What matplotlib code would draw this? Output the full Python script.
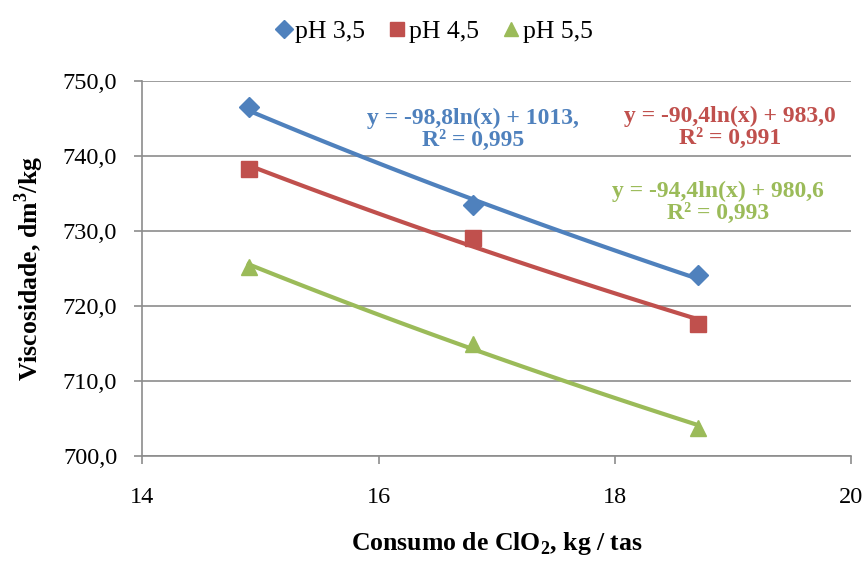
import numpy as np
import matplotlib.pyplot as plt

plt.rcParams['font.family'] = ['Liberation Serif', 'DejaVu Serif']
plt.rcParams['mathtext.fontset'] = 'custom'
plt.rcParams['mathtext.rm'] = 'Liberation Serif'
plt.rcParams['mathtext.bf'] = 'Liberation Serif:bold'

# consumo de ClO2 (kg/tas) e viscosidade (dm3/kg) por pH
consumo = [14.9, 16.8, 18.7]
visc_ph35 = [746.6, 733.5, 724.1]
visc_ph45 = [738.3, 729.1, 717.6]
visc_ph55 = [725.2, 715.0, 703.7]

# coeficientes das linhas de tendência logarítmicas: y = a ln(x) + b
coef_ph35 = (-98.8, 1013.0)
coef_ph45 = (-90.4, 983.0)
coef_ph55 = (-94.4, 980.6)

series = [
    ("pH 3,5", visc_ph35, coef_ph35, "#4F81BD", "D", 10,
     "y = -98,8ln(x) + 1013,\nR² = 0,995", (16.8, 743.6)),
    ("pH 4,5", visc_ph45, coef_ph45, "#C0504D", "s", 11,
     "y = -90,4ln(x) + 983,0\nR² = 0,991", (18.97, 743.8)),
    ("pH 5,5", visc_ph55, coef_ph55, "#9BBB59", "^", 11,
     "y = -94,4ln(x) + 980,6\nR² = 0,993", (18.87, 733.9)),
]

fig = plt.figure(figsize=(8.67, 5.61), dpi=100)
ax = fig.add_axes([0.164, 0.187, 0.818, 0.668])

xs = np.linspace(min(consumo), max(consumo), 50)
handles = []
for nome, vals, (a, b), cor, mk, ms, eq, pos in series:
    ax.plot(xs, a * np.log(xs) + b, color=cor, lw=3, zorder=2)
    h, = ax.plot(consumo, vals, linestyle="none", marker=mk, ms=ms,
                 color=cor, label=nome, zorder=3)
    handles.append(h)
    ax.text(pos[0], pos[1], eq, color=cor, fontsize=17, fontweight="bold",
            ha="center", va="center", linespacing=1.05)

ax.set_xlim(14, 20)
ax.set_ylim(700, 750)
ax.set_xticks([14, 16, 18, 20])
ax.set_yticks(np.arange(700, 751, 10))
ax.set_yticklabels([f"{v:.1f}".replace(".", ",") for v in np.arange(700, 751, 10)])

ax.grid(axis="y", color="#8c8c8c", lw=1.2)
ax.set_axisbelow(True)
for s in ["top", "right"]:
    ax.spines[s].set_visible(False)
for s in ["left", "bottom"]:
    ax.spines[s].set_color("#8c8c8c")
    ax.spines[s].set_linewidth(1.2)
ax.tick_params(colors="#8c8c8c", labelcolor="black", labelsize=17.5, length=6, width=1.2)
ax.tick_params(axis="x", pad=16)
ax.tick_params(axis="y", pad=12)

ax.set_xlabel("Consumo de ClO$_\\mathbf{2}$, kg / tas", fontsize=18.5,
              fontweight="bold", labelpad=16)
ax.set_ylabel("Viscosidade, dm$^\\mathbf{3}$/kg", fontsize=18.5, fontweight="bold",
              labelpad=12)

fig.legend(handles=handles, loc="upper center", bbox_to_anchor=(0.5, 1.005),
           ncol=3, frameon=False, fontsize=18.5, handlelength=0.7,
           handletextpad=0.1, columnspacing=0.9, markerscale=0.9)

fig.savefig("out.png", dpi=100)
